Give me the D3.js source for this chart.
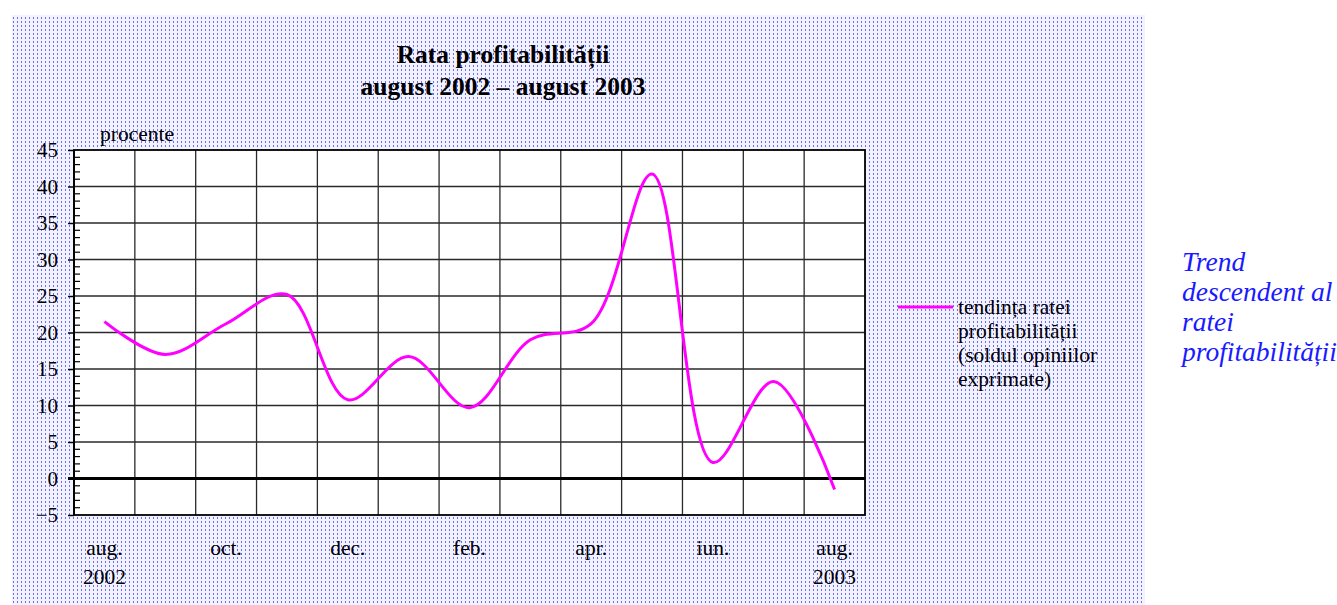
<!DOCTYPE html>
<html>
<head>
<meta charset="utf-8">
<script src="https://cdn.jsdelivr.net/npm/d3@7"></script>
<style>
  body { margin: 0; background: #fff; }
  text { font-family: "Liberation Serif", "Times New Roman", serif; }
</style>
</head>
<body>
<script>
// months on the x axis (one column each)
var months = ["aug. 2002", "sep. 2002", "oct. 2002", "nov. 2002", "dec. 2002", "ian. 2003", "feb. 2003",
              "mar. 2003", "apr. 2003", "mai 2003", "iun. 2003", "iul. 2003", "aug. 2003"];
// tendinta ratei profitabilitatii (sold, procente)
var values = [21.5, 17.0, 21.2, 25.2, 10.8, 16.7, 9.7, 19.0, 21.2, 41.7, 2.2, 13.3, -1.5];
// which month gets a label, and its two lines
var tickLabels = [["aug.", "2002"], null, ["oct.", ""], null, ["dec.", ""], null, ["feb.", ""],
                  null, ["apr.", ""], null, ["iun.", ""], null, ["aug.", "2003"]];
var yTicks = [-5, 0, 5, 10, 15, 20, 25, 30, 35, 40, 45];

var W = 1337, H = 605;
var svg = d3.select("body").append("svg")
    .attr("width", W)
    .attr("height", H);

// dotted background
var defs = svg.append("defs");
var pat = defs.append("pattern")
    .attr("id", "dots")
    .attr("width", 4)
    .attr("height", 4)
    .attr("patternUnits", "userSpaceOnUse");
pat.append("rect").attr("width", 4).attr("height", 4).attr("fill", "#f3f3ff");
pat.append("rect").attr("x", 1).attr("y", 1).attr("width", 1).attr("height", 2).attr("fill", "#6b6bff");

svg.append("rect")
    .attr("x", 12).attr("y", 15)
    .attr("width", 1133).attr("height", 590)
    .attr("fill", "url(#dots)");

var pLeft = 74, pRight = 865, pTop = 150, pBottom = 515;

var x = d3.scaleBand().domain(months).range([pLeft, pRight]).padding(0);
var y = d3.scaleLinear().domain([-5, 45]).range([pBottom, pTop]);

// plot area
svg.append("rect")
    .attr("x", pLeft).attr("y", pTop)
    .attr("width", pRight - pLeft).attr("height", pBottom - pTop)
    .attr("fill", "#fff");

// vertical grid: column boundaries
var bounds = months.map(function(d) { return x(d); }).concat([pRight]);
svg.selectAll(".vgrid")
    .data(bounds.slice(1, -1))
    .enter().append("line")
    .attr("x1", function(d) { return d; })
    .attr("x2", function(d) { return d; })
    .attr("y1", pTop).attr("y2", pBottom)
    .attr("stroke", "#2a2a2a").attr("stroke-width", 1.3);

// horizontal grid
svg.selectAll(".hgrid")
    .data(yTicks.filter(function(d) { return d !== 0 && d !== -5 && d !== 45; }))
    .enter().append("line")
    .attr("x1", pLeft).attr("x2", pRight)
    .attr("y1", function(d) { return y(d); })
    .attr("y2", function(d) { return y(d); })
    .attr("stroke", "#2a2a2a").attr("stroke-width", 1.3);

// zero line
svg.append("line")
    .attr("x1", pLeft - 6).attr("x2", pRight)
    .attr("y1", y(0)).attr("y2", y(0))
    .attr("stroke", "#000").attr("stroke-width", 3);

// frame
svg.append("rect")
    .attr("x", pLeft).attr("y", pTop)
    .attr("width", pRight - pLeft).attr("height", pBottom - pTop)
    .attr("fill", "none")
    .attr("stroke", "#000").attr("stroke-width", 1.8);

// y axis with minor ticks
var yAxis = d3.axisLeft(y).tickValues(yTicks).tickSize(6).tickPadding(10)
    .tickFormat(function(d) { return d < 0 ? "\u2212" + Math.abs(d) : d; });
var ya = svg.append("g").attr("transform", "translate(" + pLeft + ",0)").call(yAxis);
ya.select(".domain").remove();
ya.selectAll("line").attr("stroke", "#000").attr("stroke-width", 1.5);
ya.selectAll("text")
    .attr("fill", "#000")
    .style("font-family", "Liberation Serif")
    .style("font-size", "21px");

var minor = d3.range(-5, 46).filter(function(d) { return d % 5 !== 0; });
svg.selectAll(".minor")
    .data(minor)
    .enter().append("line")
    .attr("x1", pLeft).attr("x2", pLeft + 6)
    .attr("y1", function(d) { return y(d); })
    .attr("y2", function(d) { return y(d); })
    .attr("stroke", "#000").attr("stroke-width", 1.2);
svg.append("line")
    .attr("x1", pLeft).attr("x2", pLeft)
    .attr("y1", pTop).attr("y2", pBottom)
    .attr("stroke", "#000").attr("stroke-width", 2);

// x labels
var xl = svg.selectAll(".xlab")
    .data(months.map(function(d, i) { return { m: d, t: tickLabels[i] }; })
        .filter(function(d) { return d.t; }))
    .enter().append("text")
    .attr("text-anchor", "middle")
    .attr("font-size", "21.5px")
    .attr("fill", "#000");
xl.append("tspan")
    .attr("x", function(d) { return x(d.m) + x.bandwidth() / 2; })
    .attr("y", 555)
    .text(function(d) { return d.t[0]; });
xl.append("tspan")
    .attr("x", function(d) { return x(d.m) + x.bandwidth() / 2; })
    .attr("y", 584)
    .text(function(d) { return d.t[1]; });

// unit label
svg.append("text")
    .attr("x", 100).attr("y", 141)
    .attr("font-size", "21.5px")
    .attr("fill", "#000")
    .text("procente");

// title
svg.append("text")
    .attr("x", 503).attr("y", 63)
    .attr("text-anchor", "middle")
    .attr("font-size", "25.5px")
    .attr("font-weight", "bold")
    .text("Rata profitabilității");
svg.append("text")
    .attr("x", 503).attr("y", 95)
    .attr("text-anchor", "middle")
    .attr("font-size", "25.5px")
    .attr("font-weight", "bold")
    .text("august 2002 \u2013 august 2003");

// the series
var line = d3.line()
    .x(function(d, i) { return x(months[i]) + x.bandwidth() / 2; })
    .y(function(d) { return y(d); })
    .curve(d3.curveCatmullRom.alpha(0.5));

svg.append("path")
    .datum(values)
    .attr("d", line)
    .attr("fill", "none")
    .attr("stroke", "#ff00ff")
    .attr("stroke-width", 3);

// legend
svg.append("line")
    .attr("x1", 898).attr("x2", 953)
    .attr("y1", 307).attr("y2", 307)
    .attr("stroke", "#ff00ff").attr("stroke-width", 3);
var legendLines = ["tendința ratei", "profitabilității", "(soldul opiniilor", "exprimate)"];
svg.selectAll(".leg")
    .data(legendLines)
    .enter().append("text")
    .attr("x", 958)
    .attr("y", function(d, i) { return 314 + i * 24; })
    .attr("font-size", "21.5px")
    .attr("fill", "#000")
    .text(function(d) { return d; });

// side note
var note = ["Trend", "descendent al", "ratei", "profitabilității"];
svg.selectAll(".note")
    .data(note)
    .enter().append("text")
    .attr("x", 1182)
    .attr("y", function(d, i) { return 271 + i * 30; })
    .attr("font-size", "27.5px")
    .attr("font-style", "italic")
    .attr("fill", "#1a1aff")
    .text(function(d) { return d; });
</script>
</body>
</html>
